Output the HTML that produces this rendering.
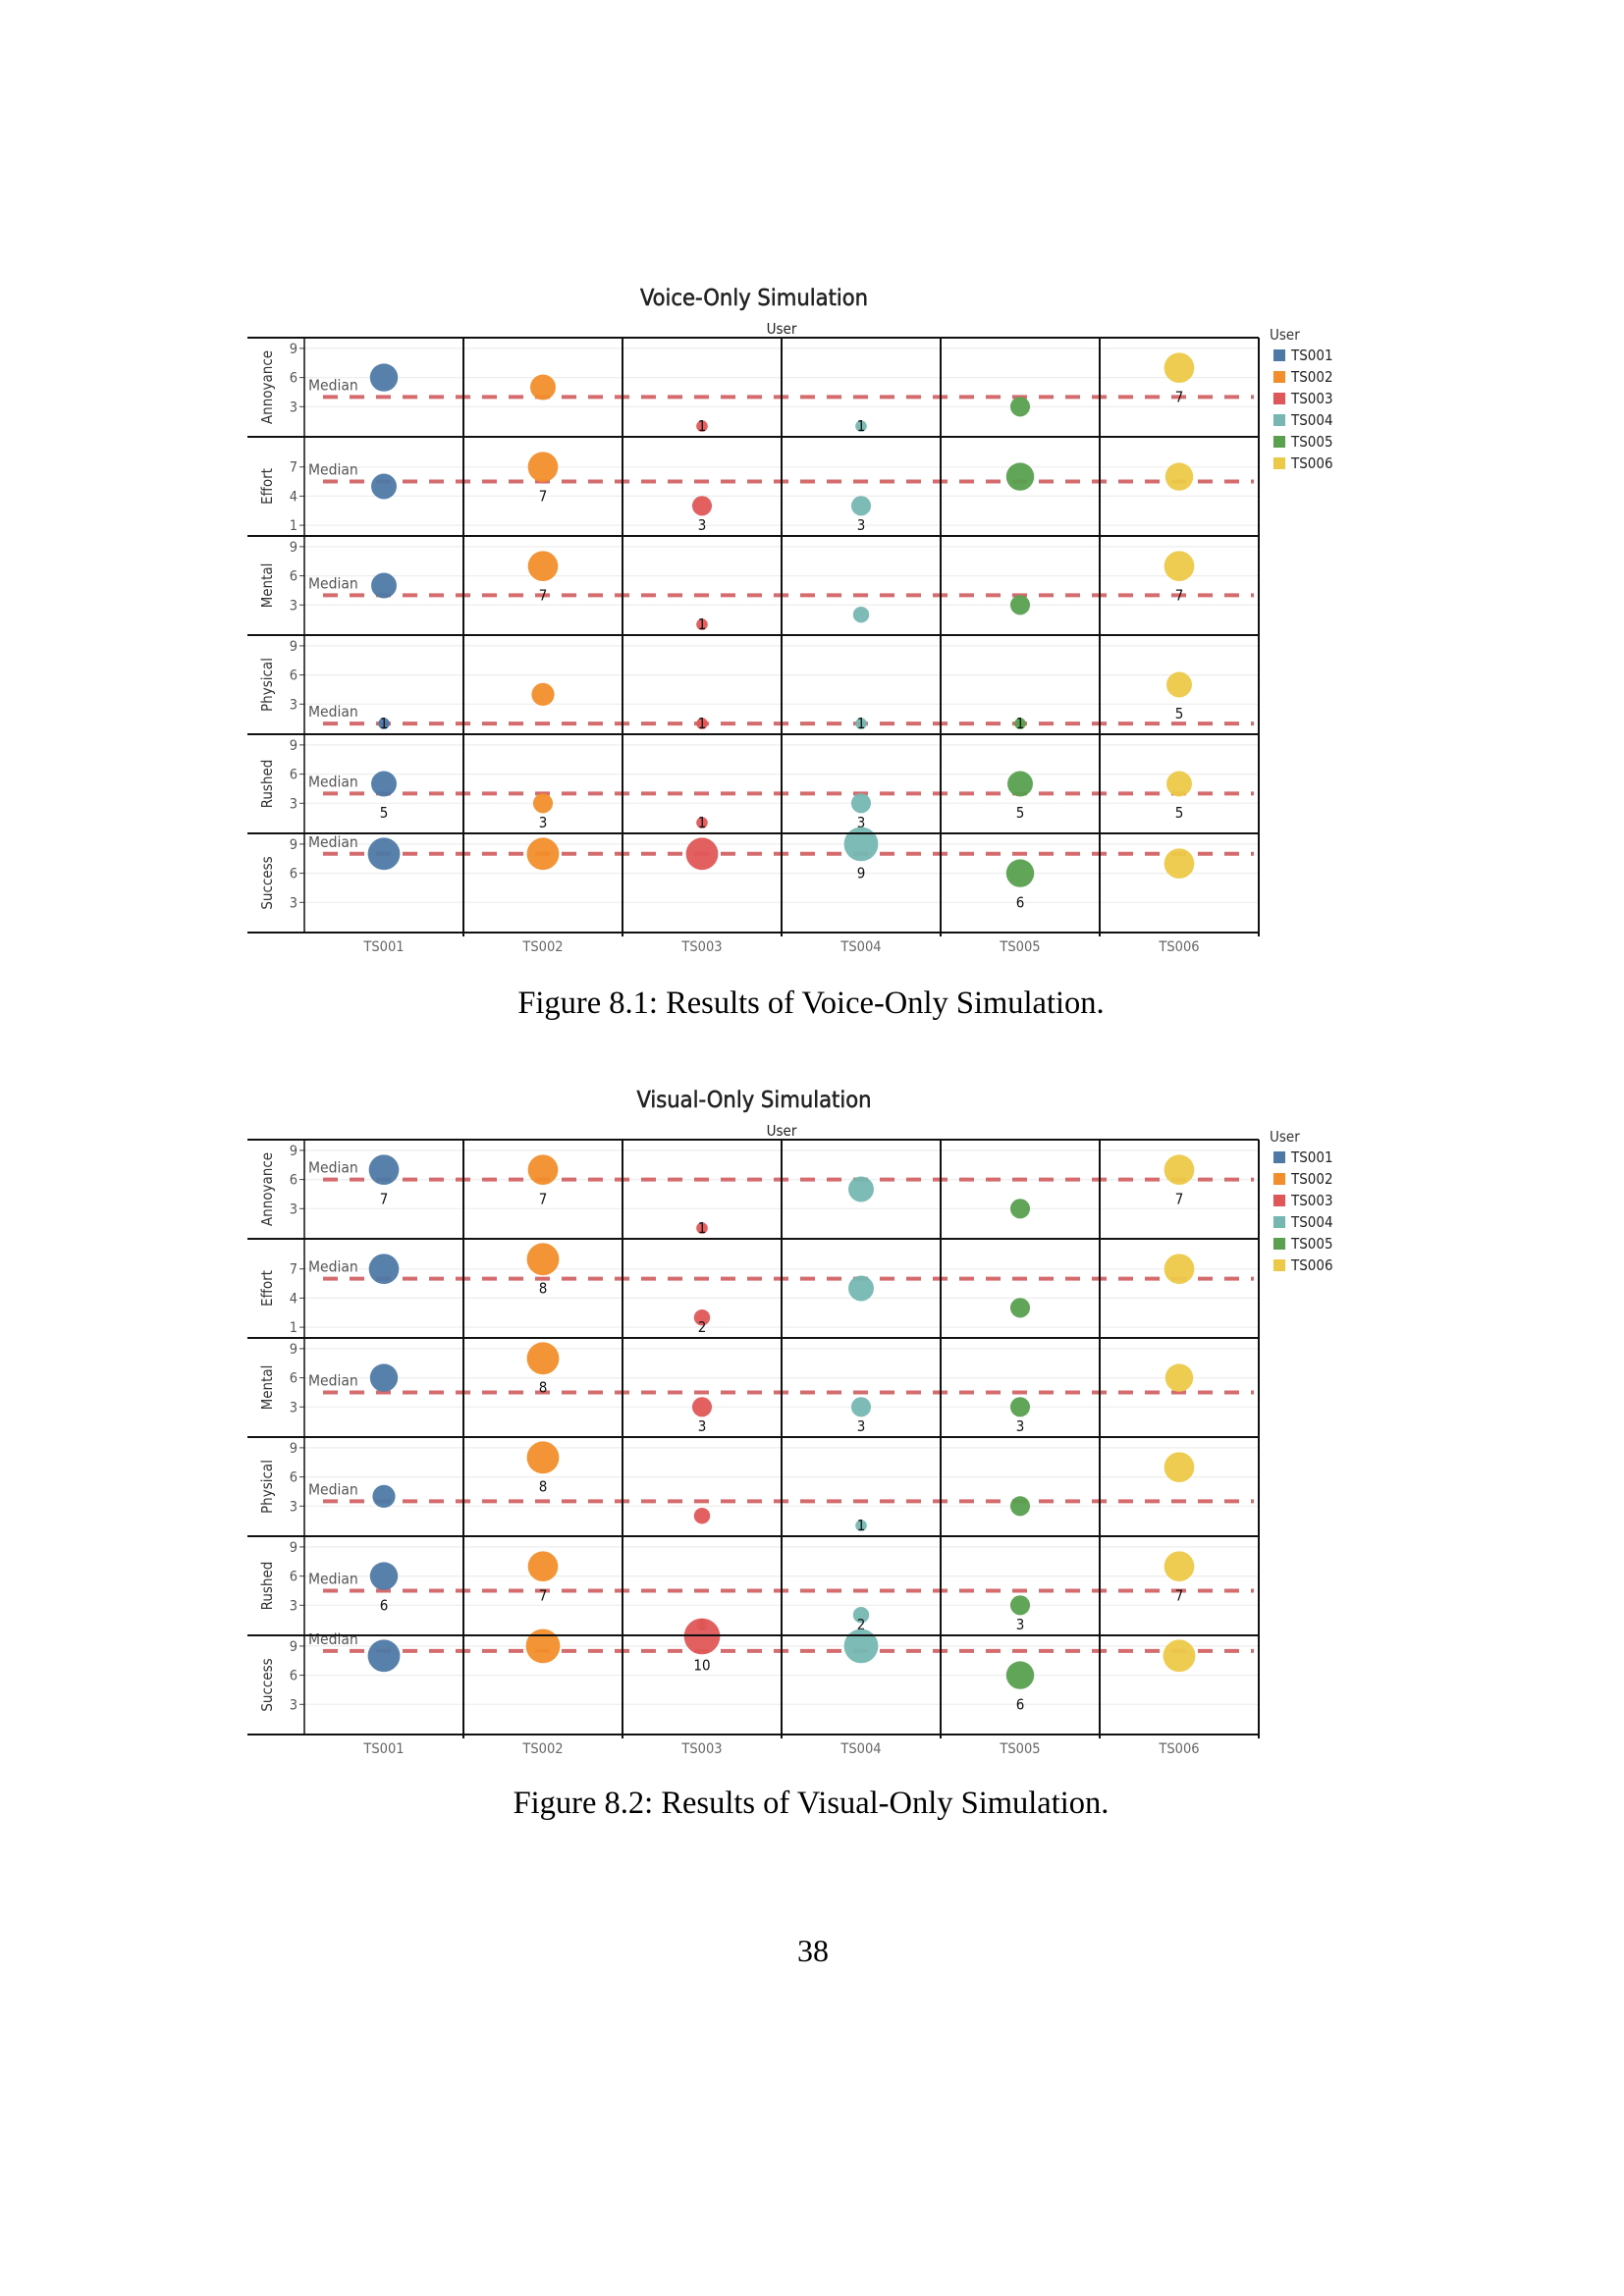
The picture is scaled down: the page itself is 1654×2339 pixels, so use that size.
<!DOCTYPE html>
<html><head><meta charset="utf-8"><style>
html,body{margin:0;padding:0;background:#fff;}
svg{display:block;}
</style></head><body>
<svg id="page" width="1654" height="2339" viewBox="0 0 1654 2339" xmlns="http://www.w3.org/2000/svg">
<text x="826" y="1032" text-anchor="middle" font-family="Liberation Serif, serif" font-size="32.5" fill="#000">Figure 8.1: Results of Voice-Only Simulation.</text>
<text x="826" y="1847" text-anchor="middle" font-family="Liberation Serif, serif" font-size="32.5" fill="#000">Figure 8.2: Results of Visual-Only Simulation.</text>
<text x="828" y="1998" text-anchor="middle" font-family="Liberation Serif, serif" font-size="32" fill="#000">38</text>
</svg>
<script>
const users = ["TS001","TS002","TS003","TS004","TS005","TS006"];
const metrics = ["Annoyance","Effort","Mental","Physical","Rushed","Success"];
const colors = ["#4e79a7","#f28e2b","#e15759","#76b7b2","#59a14f","#edc948"];
// Voice-only values: rows = metrics, cols = users
const voiceAnnoyance = [6,5,1,1,3,7];
const voiceEffort    = [5,7,3,3,6,6];
const voiceMental    = [5,7,1,2,3,7];
const voicePhysical  = [1,4,1,1,1,5];
const voiceRushed    = [5,3,1,3,5,5];
const voiceSuccess   = [8,8,8,9,6,7];
const voiceMedians   = [4,5.5,4,1,4,8];
const voiceLabelled  = [[0,0,1,1,0,1],[0,1,1,1,0,0],[0,1,1,0,0,1],[1,0,1,1,1,1],[1,1,1,1,1,1],[0,0,0,1,1,0]];
// Visual-only values
const visAnnoyance = [7,7,1,5,3,7];
const visEffort    = [7,8,2,5,3,7];
const visMental    = [6,8,3,3,3,6];
const visPhysical  = [4,8,2,1,3,7];
const visRushed    = [6,7,1,2,3,7];
const visSuccess   = [8,9,10,9,6,8];
const visMedians   = [6,6,4.5,3.5,4.5,8.5];
const visLabelled  = [[1,1,1,0,0,1],[0,1,1,0,0,0],[0,1,1,1,1,0],[0,1,0,1,0,0],[1,1,1,1,1,1],[0,0,1,0,1,0]];
const tickSets = [[3,6,9],[1,4,7],[3,6,9],[3,6,9],[3,6,9],[3,6,9]];

const NS = "http://www.w3.org/2000/svg";
const svg = document.getElementById("page");
function mk(tag, attrs, parent){const e=document.createElementNS(NS,tag);for(const k in attrs)e.setAttribute(k,attrs[k]);(parent||svg).appendChild(e);return e;}
const PL=310, CW=162, RH=101, OUTL=252;
function xCol(i){return PL+CW/2+i*CW;}
function yVal(top,v){return top+1+(10-v)*9.9;}
function rad(v){return 5.8*Math.sqrt(v);}
const FONT='"DejaVu Sans Condensed","Liberation Sans",sans-serif';

function drawChart(top, title, rows, medians, labelled, titleY, key){
  const g=mk("g",{});
  
  
  const right=PL+6*CW, bottom=top+6*RH;
  let t=mk("text",{x:768,y:titleY,"text-anchor":"middle","font-family":FONT,"font-size":23.5,fill:"#222",stroke:"#222","stroke-width":0.5},g);t.textContent=title;
  
  
  t=mk("text",{x:796,y:top-4,"text-anchor":"middle","font-family":FONT,"font-size":15,fill:"#222"},g);t.textContent="User";
  
  
  for(let r=0;r<6;r++){
    const rt=top+r*RH;
    tickSets[r].forEach(tv=>{
      const y=yVal(rt,tv);
      mk("line",{x1:PL,x2:right,y1:y,y2:y,stroke:"#eeeeee","stroke-width":1.2},g);
      mk("line",{x1:PL-5,x2:PL,y1:y,y2:y,stroke:"#444","stroke-width":1},g);
      const tl=mk("text",{x:PL-7,y:y+5,"text-anchor":"end","font-family":FONT,"font-size":14.5,fill:"#555"},g);tl.textContent=tv;
      
      
    });
    const sl=mk("text",{transform:`translate(277,${rt+RH/2}) rotate(-90)`,"text-anchor":"middle","font-family":FONT,"font-size":15,fill:"#333"},g);sl.textContent=metrics[r];
    
    
    const my=yVal(rt,medians[r]);
    const ml=mk("line",{x1:329,x2:1277,y1:my,y2:my,stroke:"#d46466","stroke-width":4,"stroke-dasharray":"15 12","opacity":0.95},g);
    
    
    const mt=mk("text",{x:314,y:my-7,"font-family":FONT,"font-size":15.5,fill:"#555"},g);mt.textContent="Median";
    
    
    rows[r].forEach((v,i)=>{
      const cy=yVal(rt,v);
      const c=mk("circle",{cx:xCol(i),cy:cy,r:rad(v),fill:colors[i],"fill-opacity":0.95},g);
      
      
      if(labelled[r][i]){
        const ly=yVal(rt,Math.max(v-3,1));
        const lt=mk("text",{x:xCol(i),y:ly+5,"text-anchor":"middle","font-family":FONT,"font-size":15,fill:"#111"},g);lt.textContent=v;
        
        
      }
    });
    mk("line",{x1:OUTL,x2:right,y1:rt,y2:rt,stroke:"#111","stroke-width":2},g);
  }
  mk("line",{x1:OUTL,x2:right,y1:bottom,y2:bottom,stroke:"#111","stroke-width":2},g);
  mk("line",{x1:PL,x2:PL,y1:top,y2:bottom,stroke:"#111","stroke-width":1.5},g);
  for(let i=1;i<=6;i++){
    const x=PL+i*CW;
    mk("line",{x1:x,x2:x,y1:top,y2:bottom+4,stroke:"#111","stroke-width":2},g);
  }
  users.forEach((u,i)=>{
    const xl=mk("text",{x:xCol(i),y:bottom+19,"text-anchor":"middle","font-family":FONT,"font-size":14.5,fill:"#666"},g);xl.textContent=u;
    
    
  });
  const lg=mk("g",{},g);
  
  
  t=mk("text",{x:1293,y:top+2,"font-family":FONT,"font-size":15,fill:"#333"},lg);t.textContent="User";
  users.forEach((u,i)=>{
    const ey=top+18+i*22;
    const sq=mk("rect",{x:1297,y:ey-6,width:12,height:12,fill:colors[i]},lg);
    
    
    const et=mk("text",{x:1315,y:ey+5,"font-family":FONT,"font-size":15,fill:"#222"},lg);et.textContent=u;
    
    
  });
}
drawChart(344,"Voice-Only Simulation",[voiceAnnoyance,voiceEffort,voiceMental,voicePhysical,voiceRushed,voiceSuccess],voiceMedians,voiceLabelled,311,"voice");
drawChart(1161,"Visual-Only Simulation",[visAnnoyance,visEffort,visMental,visPhysical,visRushed,visSuccess],visMedians,visLabelled,1128,"visual");
</script>
</body></html>
